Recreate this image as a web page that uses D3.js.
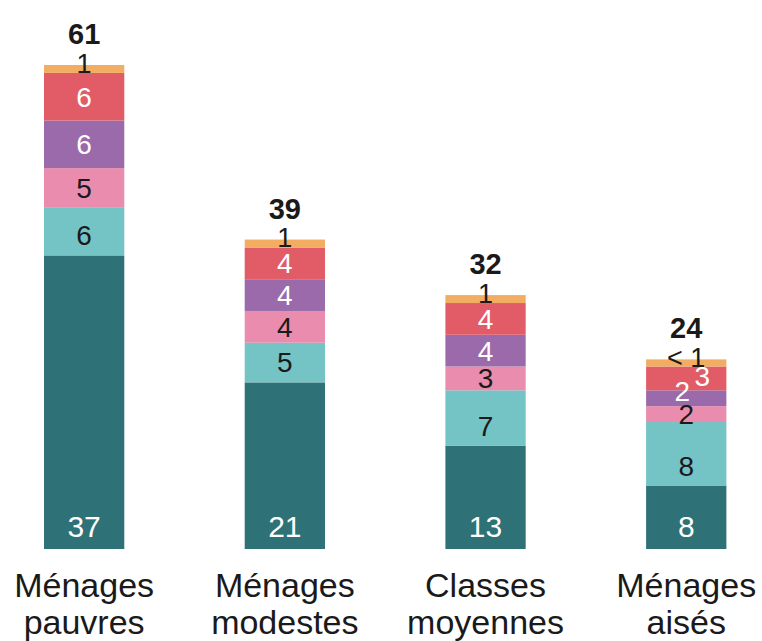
<!DOCTYPE html>
<html>
<head>
<meta charset="utf-8">
<script src="https://cdn.jsdelivr.net/npm/d3@7"></script>
<style>
  body { margin: 0; background: #fff; }
  text { font-family: "Liberation Sans", Arial, Helvetica, sans-serif; }
</style>
</head>
<body>
<div id="graph"><svg></svg></div>
<script>
// data
const categories = ["Ménages pauvres", "Ménages modestes", "Classes moyennes", "Ménages aisés"];
const keys = ["s1", "s2", "s3", "s4", "s5", "s6"];
const s1 = [37, 21, 13, 8];
const s2 = [6, 5, 7, 8];
const s3 = [5, 4, 3, 2];
const s4 = [6, 4, 4, 2];
const s5 = [6, 4, 4, 3];
const s6 = [1, 1, 1, 0.9];
const totals = [61, 39, 32, 24];
const topLabels = ["1", "1", "1", "< 1"];

const colors = ["#2e7177", "#74c3c5", "#e98cae", "#9a6aaa", "#e15c67", "#f2ad62"];
const textColors = ["#fff", "#1a1a1a", "#1a1a1a", "#fff", "#fff", "#1a1a1a"];

// small nudges where labels collide in the last bar
const nudges = { "Ménages aisés": { s4: [-4, -7], s5: [16, -2] } };

let width = 762;
let height = 641;

let svg = d3
  .select("div#graph svg")
  .attr("width", width)
  .attr("height", height);

let data = categories.map((c, i) => ({
  cat: c,
  s1: s1[i], s2: s2[i], s3: s3[i], s4: s4[i], s5: s5[i], s6: s6[i],
  total: totals[i],
  top: topLabels[i]
}));

let stacked = d3.stack().keys(keys)(data);

// bars
let xScale = d3
  .scaleBand()
  .domain(categories)
  .range([44, 44 + 200.7 * 3.4])
  .paddingInner(0.6)
  .paddingOuter(0);

let yScale = d3.scaleLinear().domain([0, 61]).range([549, 65]);

let color = d3.scaleOrdinal().domain(keys).range(colors);
let tcolor = d3.scaleOrdinal().domain(keys).range(textColors);

let layers = svg
  .append("g")
  .selectAll("g")
  .data(stacked)
  .join("g")
  .attr("fill", (d) => color(d.key));

layers
  .selectAll("rect")
  .data((d) => d)
  .join("rect")
  .attr("x", (d) => xScale(d.data.cat))
  .attr("width", xScale.bandwidth())
  .attr("y", (d) => yScale(d[1]))
  .attr("height", (d) => yScale(d[0]) - yScale(d[1]));

// segment labels
let labels = svg.append("g");
stacked.forEach((layer) => {
  layer.forEach((d) => {
    let key = layer.key;
    let cx = xScale(d.data.cat) + xScale.bandwidth() / 2;
    let yTop = yScale(d[1]);
    let yBot = yScale(d[0]);
    let y, fs = 28, txt = d.data[key];
    if (key == "s1") {
      y = yBot - 12;
      fs = 30;
    } else if (key == "s2") {
      y = yBot - 10;
    } else if (key == "s6") {
      y = yBot;
      fs = 27;
      txt = d.data.top;
    } else {
      y = (yTop + yBot) / 2 + fs * 0.36;
    }
    let n = nudges[d.data.cat] && nudges[d.data.cat][key];
    if (n) {
      cx += n[0];
      y += n[1];
    }
    labels
      .append("text")
      .attr("x", cx)
      .attr("y", y)
      .attr("text-anchor", "middle")
      .style("font-size", fs + "px")
      .style("fill", tcolor(key))
      .text(txt);
  });
});

// totals
svg
  .append("g")
  .selectAll("text")
  .data(data)
  .join("text")
  .attr("x", (d) => xScale(d.cat) + xScale.bandwidth() / 2)
  .attr("y", (d) => yScale(d.total) - 21)
  .attr("text-anchor", "middle")
  .style("font-size", "29px")
  .style("font-weight", "bold")
  .style("fill", "#1a1a1a")
  .text((d) => d.total);

// category names, two lines
let cats = svg
  .append("g")
  .selectAll("text")
  .data(categories)
  .join("text")
  .attr("x", (d) => xScale(d) + xScale.bandwidth() / 2)
  .attr("y", 597)
  .attr("text-anchor", "middle")
  .style("font-size", "34px")
  .style("fill", "#1a1a1a");

cats
  .selectAll("tspan")
  .data((d) => d.split(" "))
  .join("tspan")
  .attr("x", function () {
    return d3.select(this.parentNode).attr("x");
  })
  .attr("dy", (d, i) => (i == 0 ? 0 : 37))
  .text((d) => d);
</script>
</body>
</html>
